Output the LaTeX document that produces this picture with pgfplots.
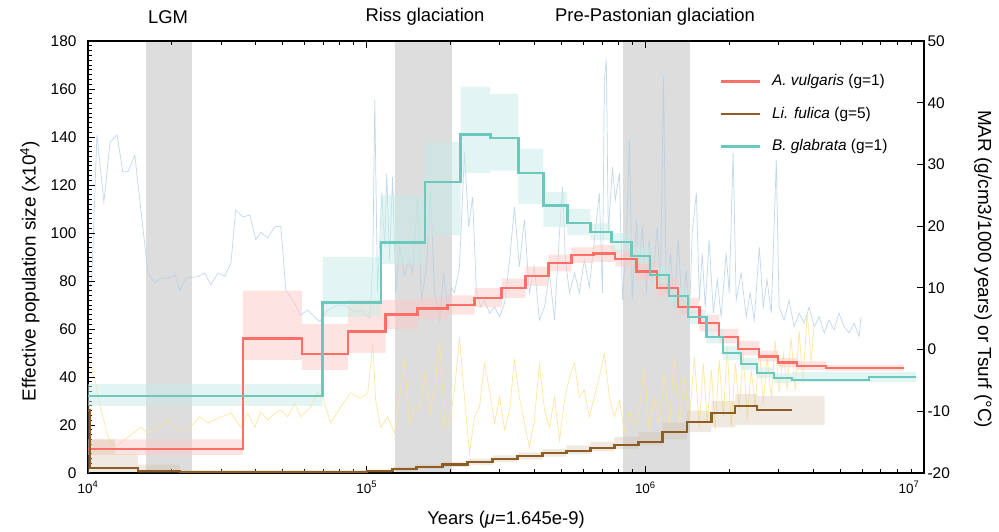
\documentclass[border=0pt]{standalone}
\usepackage{fontspec}
\setmainfont{Liberation Sans}
\usepackage{pgfplots}
\pgfplotsset{compat=1.18}

\definecolor{avred}{RGB}{250,112,102}
\definecolor{lfbrown}{RGB}{140,94,38}
\definecolor{bgteal}{RGB}{108,200,188}
\definecolor{bandgray}{RGB}{221,221,221}
\definecolor{marblue}{RGB}{178,206,230}
\definecolor{tsyellow}{RGB}{255,226,150}
\definecolor{redhalo}{RGB}{252,200,196}
\definecolor{tealhalo}{RGB}{200,236,230}
\definecolor{brownhalo}{RGB}{210,192,168}

\newcommand{\tickfont}{\fontsize{15.5}{18}\selectfont}
\newcommand{\xtickfont}{\fontsize{13.5}{16}\selectfont}
\newcommand{\labfont}{\fontsize{18.5}{22}\selectfont}
\newcommand{\ylabfont}{\fontsize{19}{23}\selectfont}

\begin{document}
\begin{tikzpicture}
\path[use as bounding box] (0,0) rectangle (999bp,532bp);

% ---- right axis: glaciation bands, MAR and Tsurf records ----
\begin{axis}[
  at={(88bp,59bp)}, anchor=south west,
  scale only axis, width=836bp, height=432bp,
  xmode=log, xmin=1e4, xmax=1e7,
  ymin=-20, ymax=50,
  axis x line=none, axis y line*=right,
  y axis line style={line width=1.8bp},
  tick align=inside, major tick length=7bp,
  every tick/.style={black, line width=0.9bp},
  tick label style={font=\tickfont},
  /pgf/number format/assume math mode=true,
  ytick={-20,-10,...,50},
  ylabel={MAR (g/cm3/1000 years) or Tsurf (°C)},
  ylabel style={font=\ylabfont, at={(axis description cs:1.0706,0.472)}, anchor=center, rotate=180},
]
\addplot[fill=bandgray, draw=none] coordinates {(16100,-20) (16100,50) (23600,50) (23600,-20)} -- cycle;
\addplot[fill=bandgray, draw=none] coordinates {(126000,-20) (126000,50) (202000,50) (202000,-20)} -- cycle;
\addplot[fill=bandgray, draw=none] coordinates {(834000,-20) (834000,50) (1.449e6,50) (1.449e6,-20)} -- cycle;

% MAR
\addplot[marblue, line width=0.7bp, opacity=0.8] table[x expr=10^\thisrow{lx}, y=v] {
lx v
4.004 9.2
4.014 11.8
4.032 34.8
4.043 30.0
4.057 23.9
4.079 33.6
4.104 34.8
4.125 28.8
4.143 28.8
4.168 31.5
4.190 22.6
4.215 12.4
4.240 10.8
4.262 11.6
4.287 11.6
4.312 12.1
4.330 9.6
4.351 11.6
4.394 11.8
4.419 12.4
4.441 10.5
4.466 12.4
4.491 11.9
4.513 14.0
4.530 22.6
4.556 21.5
4.581 21.8
4.602 17.8
4.620 19.0
4.645 18.1
4.670 19.9
4.692 20.0
4.710 9.6
4.735 8.0
4.763 5.6
4.788 6.4
4.831 4.5
4.860 6.4
4.896 7.2
4.921 7.2
4.957 6.1
4.978 6.4
5.011 5.1
5.022 14.0
5.029 40.4
5.039 9.2
5.054 25.4
5.065 16.6
5.072 28.6
5.082 14.5
5.093 28.0
5.104 9.2
5.118 16.6
5.136 12.1
5.154 14.5
5.165 12.4
5.183 24.7
5.197 8.0
5.215 13.4
5.229 25.4
5.244 9.2
5.262 4.8
5.276 12.4
5.290 6.9
5.305 10.1
5.315 9.2
5.333 13.4
5.351 31.9
5.366 19.9
5.380 24.7
5.394 9.2
5.409 6.9
5.423 8.0
5.441 5.9
5.459 6.9
5.477 5.3
5.495 7.5
5.513 14.5
5.530 23.1
5.548 13.4
5.566 21.0
5.584 9.2
5.602 13.4
5.620 4.8
5.638 6.9
5.656 12.4
5.674 4.8
5.692 18.9
5.703 26.3
5.713 14.5
5.728 9.2
5.746 12.4
5.763 9.2
5.781 14.5
5.799 10.1
5.817 17.8
5.835 25.4
5.846 9.2
5.853 43.7
5.860 47.0
5.867 18.9
5.882 29.6
5.892 24.2
5.907 28.6
5.918 8.0
5.932 17.8
5.943 34.0
5.953 8.0
5.968 21.0
5.978 13.4
5.989 19.9
6.004 9.2
6.014 17.8
6.025 10.8
6.043 19.9
6.054 9.6
6.065 44.2
6.075 9.2
6.090 15.6
6.104 6.9
6.118 17.8
6.133 5.9
6.147 12.9
6.158 4.8
6.168 18.9
6.183 25.4
6.194 8.0
6.204 15.6
6.215 6.9
6.229 17.8
6.244 5.9
6.258 11.3
6.272 5.3
6.290 15.6
6.301 9.2
6.315 31.9
6.326 8.0
6.344 12.4
6.362 5.3
6.376 9.2
6.391 4.8
6.409 16.6
6.423 6.9
6.437 11.3
6.452 5.9
6.470 30.7
6.480 6.9
6.498 4.8
6.516 8.0
6.534 3.7
6.552 5.9
6.570 4.3
6.588 6.9
6.606 3.7
6.624 5.3
6.642 2.7
6.659 4.8
6.677 3.2
6.695 5.9
6.713 3.7
6.731 2.7
6.749 4.3
6.767 2.1
6.774 5.3
};

% Tsurf
\addplot[tsyellow, line width=0.7bp, opacity=0.9] table[x expr=10^\thisrow{lx}, y=v] {
lx v
4.000 -1.2
4.025 -4.9
4.043 -9.0
4.072 -14.2
4.097 -15.8
4.143 -14.2
4.190 -12.6
4.215 -13.5
4.240 -13.0
4.287 -11.4
4.323 -13.0
4.358 -13.0
4.401 -10.9
4.430 -11.9
4.477 -10.9
4.513 -10.3
4.548 -12.6
4.573 -10.3
4.599 -12.6
4.620 -10.1
4.645 -11.4
4.670 -10.3
4.692 -9.8
4.717 -10.9
4.742 -8.7
4.763 -10.9
4.799 -9.3
4.824 -6.9
4.842 -7.7
4.871 -11.9
4.907 -9.3
4.943 -7.0
4.978 -7.9
5.004 -7.0
5.022 1.1
5.032 -8.2
5.050 -12.6
5.075 -10.9
5.100 -13.5
5.118 -7.7
5.136 -2.2
5.154 -11.9
5.172 -9.3
5.190 -9.8
5.208 -3.8
5.226 -10.3
5.244 -6.6
5.262 1.5
5.280 -12.6
5.297 -11.9
5.315 -6.6
5.333 2.0
5.351 -7.7
5.369 -16.8
5.387 -10.9
5.405 -9.3
5.423 -2.2
5.441 -6.6
5.459 -11.9
5.477 -7.7
5.495 -13.0
5.513 -9.8
5.530 -1.7
5.548 -7.7
5.566 -11.9
5.584 -15.8
5.602 -11.4
5.620 -2.2
5.638 -9.8
5.656 -12.6
5.674 -7.7
5.692 -14.7
5.710 -8.2
5.728 -4.4
5.746 -2.2
5.763 -7.7
5.781 -6.6
5.799 -10.9
5.817 -7.7
5.835 -4.4
5.853 -0.6
5.871 -7.7
5.889 -10.9
5.907 -8.2
5.925 -13.5
5.943 -9.8
5.961 -12.6
5.978 -9.8
5.996 -3.3
6.014 -13.0
6.032 -7.7
6.050 -11.9
6.068 -3.8
6.086 -12.6
6.104 -1.2
6.122 -12.6
6.140 -4.9
6.158 -11.4
6.176 -1.2
6.194 -12.6
6.208 -2.2
6.222 -11.9
6.237 -3.3
6.251 -13.0
6.265 -1.7
6.280 -10.9
6.294 0.5
6.308 -12.6
6.323 -2.2
6.337 -9.8
6.351 -0.6
6.366 -11.4
6.380 -3.3
6.394 -9.3
6.409 0.5
6.423 -8.7
6.437 -1.2
6.452 -7.7
6.466 1.5
6.480 -7.0
6.495 -0.6
6.509 -6.6
6.523 2.0
6.538 -6.6
6.552 3.0
6.566 -5.5
6.581 6.0
6.595 -2.0
6.606 4.0
};
\end{axis}

% ---- left axis: PSMC effective population size ----
\begin{axis}[
  at={(88bp,59bp)}, anchor=south west,
  scale only axis, width=836bp, height=432bp,
  xmode=log, xmin=1e4, xmax=1e7,
  ymin=0, ymax=180,
  axis line style={line width=1.8bp},
  tick align=inside, major tick length=7bp, minor tick length=4bp,
  every tick/.style={black, line width=0.9bp},
  tick label style={font=\tickfont},
  /pgf/number format/assume math mode=true,
  ytick={0,20,...,180}, minor y tick num=9,
  ytick pos=left, xtick pos=both,
  xtick={1e4,1e5,1e6,1e7},
  xticklabels={10\textsuperscript{4},10\textsuperscript{5},10\textsuperscript{6},\hspace*{-30bp}10\textsuperscript{7}},
  minor xtick={2e4,3e4,4e4,5e4,6e4,7e4,8e4,9e4,2e5,3e5,4e5,5e5,6e5,7e5,8e5,9e5,2e6,3e6,4e6,5e6,6e6,7e6,8e6,9e6},
  xticklabel style={font=\xtickfont, yshift=-5bp},
  yticklabel style={xshift=-8bp},
  xlabel={Years (\textit{μ}=1.645e-9)},
  xlabel style={font=\labfont, at={(axis description cs:0.5,-0.109)}, anchor=center},
  ylabel={Effective population size (x10\textsuperscript{4})},
  ylabel style={font=\ylabfont, at={(axis description cs:-0.0694,0.4676)}, anchor=center},
  legend cell align=left,
  legend image code/.code={\draw[#1, line width=2.6bp] (0bp,0bp) -- (39bp,0bp);},
  legend style={draw=none, fill=none, font=\tickfont, inner sep=0pt,
    at={(rel axis cs:0.755,0.93)}, anchor=north west,
    row sep=13bp, nodes={inner sep=3bp, text depth=0.25em},
    /tikz/every odd column/.append style={column sep=8bp}},
]
% bootstrap spread (upper bound left to right, lower bound right to left)
\addplot[const plot, fill=redhalo, draw=none, fill opacity=0.5, forget plot] coordinates {
(1e4,14) (35940,76) (58480,62) (85530,72) (116900,72) (152300,73) (195000,74)
(243700,77) (304800,81) (371400,86) (449000,91) (543000,94) (651300,95)
(780500,93) (928800,88) (1.104e6,81) (1.313e6,73) (1.563e6,66) (1.843e6,60)
(2.155e6,55) (2.563e6,51) (2.997e6,48) (3.506e6,46.5) (4.457e6,45) (8.477e6,45)
(8.477e6,42.5) (4.457e6,43) (3.506e6,44) (2.997e6,46.5) (2.563e6,49) (2.155e6,54)
(1.843e6,59) (1.563e6,66) (1.313e6,73.5) (1.104e6,80.5) (928800,86) (780500,88)
(651300,87.5) (543000,84) (449000,78) (371400,73) (304800,69) (243700,66)
(195000,64) (152300,60) (116900,50) (85530,43) (58480,47) (35940,7.5) (1e4,7.5)} -- cycle;
\addplot[const plot, fill=tealhalo, draw=none, fill opacity=0.5, forget plot] coordinates {
(1e4,37) (69500,90) (112300,116) (161500,138) (217200,161) (278100,158)
(350500,135) (430900,117) (525000,110) (635500,104) (755500,100) (891000,94)
(1.042e6,86) (1.219e6,77) (1.426e6,68) (1.656e6,60) (1.905e6,53) (2.208e6,48)
(2.519e6,44) (2.899e6,41.5) (3.365e6,42) (9.357e6,42)
(9.357e6,38) (3.365e6,37.5) (2.899e6,39.5) (2.519e6,43) (2.208e6,47) (1.905e6,54)
(1.656e6,62) (1.426e6,70) (1.219e6,79) (1.042e6,87) (891000,92) (755500,97)
(635500,99) (525000,102.5) (430900,112) (350500,126) (278100,125) (217200,99)
(161500,87) (112300,65) (69500,28) (1e4,28)} -- cycle;
\addplot[const plot, fill=brownhalo, draw=none, fill opacity=0.35, forget plot] coordinates {
(1e4,30) (10150,14) (12500,8) (15110,3.5) (21380,1.2) (100000,1.5) (123900,2.5)
(151000,3.6) (187200,4.7) (230100,6) (283000,7.3) (347600,8.6) (427300,10)
(520900,11.5) (635500,13) (774800,15) (944400,17) (1.151e6,21) (1.41e6,26)
(1.726e6,30) (2.103e6,33) (2.519e6,32) (4.4e6,32)
(4.4e6,20) (2.519e6,20) (2.103e6,19) (1.726e6,17) (1.41e6,14) (1.151e6,11.5)
(944400,10) (774800,9) (635500,8) (520900,6.8) (427300,5.6) (347600,4.5)
(283000,3.4) (230100,2.5) (187200,1.6) (151000,0.8) (123900,0.3) (100000,0)
(21380,0.2) (15110,0.5) (12500,0.5) (10150,0) (1e4,0)} -- cycle;

% main PSMC curves
\addplot[avred, line width=2.3bp, const plot] coordinates {
(1e4,10) (35940,56) (58480,49.5) (85530,59) (116900,66) (152300,68.5) (195000,70)
(243700,73) (304800,77) (371400,82) (449000,87.5) (543000,90.8) (651300,91.5)
(780500,89.2) (928800,84) (1.104e6,77) (1.313e6,69.3) (1.563e6,62.4) (1.843e6,56.8)
(2.155e6,51.7) (2.563e6,48.5) (2.997e6,46) (3.506e6,44.7) (4.457e6,43.8) (8.477e6,43.8)};
\addlegendentry{\textit{A. vulgaris} (g=1)}
\addplot[lfbrown, line width=2.3bp, const plot] coordinates {
(1e4,26) (10150,2.2) (15110,0.8) (21380,0.2) (100000,0.8) (123900,1.6) (151000,2.6)
(187200,3.6) (230100,4.7) (283000,5.9) (347600,7) (427300,8.2) (520900,9.3)
(635500,10.3) (774800,11.6) (944400,13) (1.151e6,17) (1.41e6,21.2) (1.726e6,24.9)
(2.103e6,28) (2.519e6,26.3) (3.365e6,26.3)};
\addlegendentry{\textit{Li. fulica} (g=5)}
\addplot[bgteal, line width=2.3bp, const plot] coordinates {
(1e4,32) (69500,71) (112300,96) (161500,121.3) (217200,141.1) (278100,139.7)
(350500,125.1) (430900,111.4) (525000,104.3) (635500,100.3) (755500,96.2)
(891000,90.3) (1.042e6,82.5) (1.219e6,73.7) (1.426e6,64.9) (1.656e6,56.8)
(1.905e6,49.9) (2.208e6,45.3) (2.519e6,41.8) (2.899e6,39.5) (3.365e6,38.8)
(6.355e6,40.1) (9.357e6,40.1)};
\addlegendentry{\textit{B. glabrata} (g=1)}
\end{axis}

% glaciation labels above the frame
\node[font=\labfont] at (168bp,515bp) {LGM};
\node[font=\labfont] at (425bp,515bp) {Riss glaciation};
\node[font=\labfont] at (655bp,515bp) {Pre-Pastonian glaciation};
\end{tikzpicture}
\end{document}
